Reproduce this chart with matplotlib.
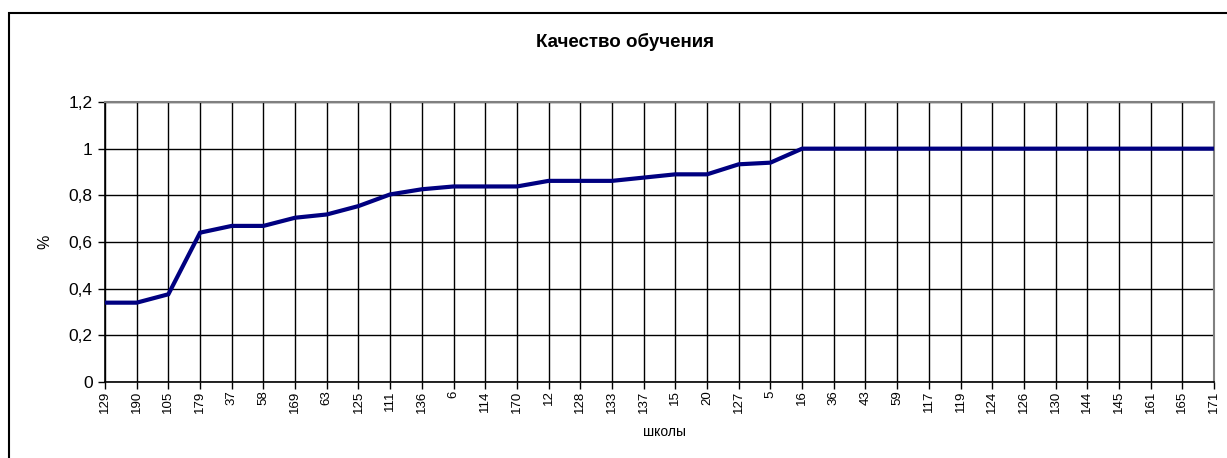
import matplotlib
matplotlib.use('Agg')
import matplotlib.pyplot as plt
from matplotlib.patches import Rectangle
from matplotlib.ticker import FuncFormatter, MultipleLocator

plt.rcParams['font.family'] = ['Liberation Sans', 'DejaVu Sans']

# данные: школы и качество обучения
schools = ['129', '190', '105', '179', '37', '58', '169', '63', '125', '111',
           '136', '6', '114', '170', '12', '128', '133', '137', '15', '20',
           '127', '5', '16', '36', '43', '59', '117', '119', '124', '126',
           '130', '144', '145', '161', '165', '171']
quality = [0.34, 0.34, 0.376, 0.64, 0.669, 0.669, 0.704, 0.718, 0.754, 0.804,
           0.826, 0.838, 0.838, 0.838, 0.862, 0.862, 0.862, 0.876, 0.89, 0.89,
           0.933, 0.94, 1, 1, 1, 1, 1, 1, 1, 1,
           1, 1, 1, 1, 1, 1]

W, H = 1227, 458
fig = plt.figure(figsize=(W / 100, H / 100), dpi=100)
ax = fig.add_axes([105 / W, 1 - 382 / H, (1214 - 105) / W, (382 - 102) / H])

x = range(len(schools))
ax.plot(x, quality, color='#000080', linewidth=3, solid_joinstyle='miter', zorder=3)

ax.set_xlim(0, len(schools) - 1)
ax.set_ylim(0, 1.2)
ax.yaxis.set_major_locator(MultipleLocator(0.2))
ax.yaxis.set_major_formatter(FuncFormatter(
    lambda v, p: '0' if abs(v) < 1e-9 else ('1' if abs(v - 1) < 1e-9 else f'{v:.1f}'.replace('.', ','))))
ax.set_xticks(list(x))
ax.set_xticklabels(schools, rotation=90, fontsize=9.5)
ax.tick_params(axis='y', labelsize=12.5, length=5, width=1, direction='out', pad=4)
ax.tick_params(axis='x', length=5, width=1, direction='out', pad=1)

ax.grid(True, color='black', linewidth=1.0)
ax.set_axisbelow(True)
for s in ['left', 'bottom']:
    ax.spines[s].set_color('black')
    ax.spines[s].set_linewidth(1.2)
for s in ['top', 'right']:
    ax.spines[s].set_color('#808080')
    ax.spines[s].set_linewidth(1.5)

fig.text(625 / W, 1 - 42 / H, 'Качество обучения', ha='center', va='center',
         fontsize=13.5, fontweight='bold')
fig.text(665 / W, 1 - 432 / H, 'школы', ha='center', va='center', fontsize=10)
fig.text(45 / W, 1 - 242 / H, '%', ha='center', va='center', fontsize=11.5, rotation=90)

# рамка области диаграммы
fig.patches.append(Rectangle((9 / W, -0.1), 1.2, 1 - 13 / H + 0.1,
                             transform=fig.transFigure, fill=False,
                             edgecolor='black', linewidth=1.5))

fig.savefig('out.png', dpi=100, facecolor='white')
